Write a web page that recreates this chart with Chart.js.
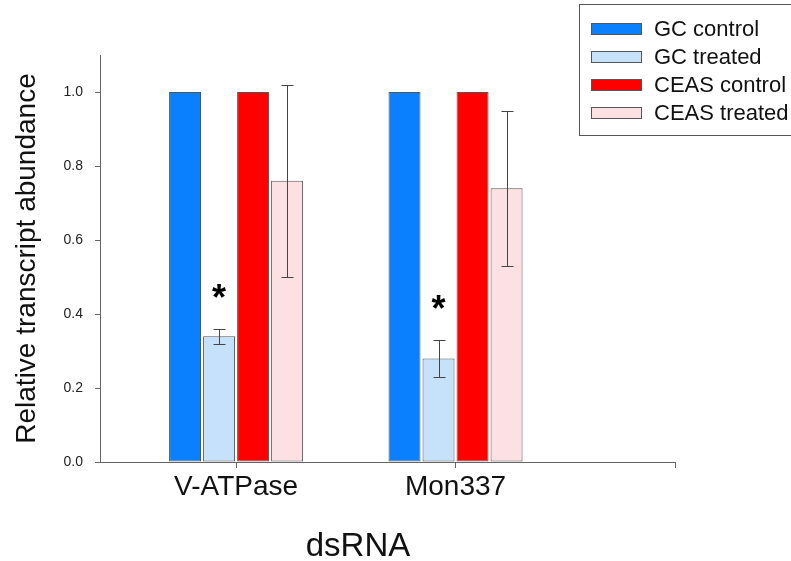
<!DOCTYPE html>
<html>
<head>
<meta charset="utf-8">
<script src="https://cdn.jsdelivr.net/npm/chart.js@4.4.1/dist/chart.umd.min.js"></script>
<style>
  html, body { margin: 0; padding: 0; background: #fff; }
</style>
</head>
<body>
<canvas id="myChart" width="791" height="561"></canvas>
<script>
// data
const categories = ['V-ATPase', 'Mon337'];
const positions = [1, 2];
const seriesNames = ['GC control', 'GC treated', 'CEAS control', 'CEAS treated'];
const gcControl = [1.0, 1.0];
const gcTreated = [0.34, 0.28];
const ceasControl = [1.0, 1.0];
const ceasTreated = [0.76, 0.74];
const gcTreatedErr = [0.02, 0.05];
const ceasTreatedErr = [0.26, 0.21];
const starLevels = [0.46, 0.43];
const yTicks = [0, 0.2, 0.4, 0.6, 0.8, 1.0];
const xTicks = [1, 2, 3];

const colors = ['#0a80ff', '#c6e1fa', '#ff0000', '#fde0e2'];
const FONT = '"Liberation Sans", Arial, sans-serif';

const toPoints = (vals) => vals.map((v, i) => ({ x: positions[i], y: v }));
const seriesValues = [gcControl, gcTreated, ceasControl, ceasTreated];
const seriesErrors = [null, gcTreatedErr, null, ceasTreatedErr];

// error bars, asterisks, x title, legend box
const extras = {
  id: 'extras',
  afterDatasetsDraw(chart) {
    const ctx = chart.ctx;
    const y = chart.scales.y;
    ctx.save();
    ctx.strokeStyle = '#444';
    ctx.lineWidth = 1;
    seriesErrors.forEach((errs, di) => {
      if (!errs) return;
      const meta = chart.getDatasetMeta(di);
      meta.data.forEach((bar, j) => {
        const v = seriesValues[di][j];
        const top = Math.round(y.getPixelForValue(v + errs[j])) + 0.5;
        const bot = Math.round(y.getPixelForValue(v - errs[j])) + 0.5;
        const x = Math.round(bar.x) + 0.5;
        ctx.beginPath();
        ctx.moveTo(x, top); ctx.lineTo(x, bot);
        ctx.moveTo(x - 6, top); ctx.lineTo(x + 6, top);
        ctx.moveTo(x - 6, bot); ctx.lineTo(x + 6, bot);
        ctx.stroke();
      });
    });
    // significance stars over GC treated
    ctx.fillStyle = '#000';
    ctx.font = 'bold 36px ' + FONT;
    ctx.textAlign = 'center';
    ctx.textBaseline = 'alphabetic';
    chart.getDatasetMeta(1).data.forEach((bar, j) => {
      ctx.fillText('*', bar.x, y.getPixelForValue(starLevels[j]) + 18);
    });
    ctx.restore();
  },
  afterDraw(chart) {
    const ctx = chart.ctx;
    ctx.save();
    // x axis title
    ctx.fillStyle = '#111';
    ctx.font = '33px ' + FONT;
    ctx.textAlign = 'center';
    ctx.textBaseline = 'alphabetic';
    ctx.fillText('dsRNA', 358, 556);
    // legend
    ctx.strokeStyle = '#555';
    ctx.lineWidth = 1;
    ctx.strokeRect(579.5, 4.5, 220, 131);
    ctx.font = '22px ' + FONT;
    ctx.textAlign = 'left';
    ctx.textBaseline = 'middle';
    seriesNames.forEach((name, i) => {
      const cy = 29 + i * 28;
      ctx.fillStyle = colors[i];
      ctx.fillRect(591, cy - 6, 51, 12);
      ctx.strokeStyle = '#555';
      ctx.strokeRect(591.5, cy - 5.5, 50, 11);
      ctx.fillStyle = '#111';
      ctx.fillText(name, 654, cy + 1);
    });
    ctx.restore();
  }
};

const ctx = document.getElementById('myChart');
const myChart = new Chart(ctx, {
  type: 'bar',
  data: {
    datasets: seriesNames.map((name, i) => ({
      label: name,
      data: toPoints(seriesValues[i]),
      backgroundColor: colors[i],
      borderColor: '#555',
      borderWidth: 1,
      borderSkipped: false,
      categoryPercentage: 0.62,
      barPercentage: 0.94
    }))
  },
  options: {
    responsive: false,
    animation: false,
    layout: { padding: { top: 55, right: 116, left: 0, bottom: 0 } },
    plugins: {
      legend: { display: false },
      tooltip: { enabled: false }
    },
    scales: {
      x: {
        type: 'linear',
        min: 0.38,
        max: 3,
        offset: false,
        afterBuildTicks: (s) => { s.ticks = xTicks.map(v => ({ value: v })); },
        afterFit: (s) => { s.height = 99; },
        border: { display: true, color: '#666', width: 1 },
        grid: { display: true, offset: false, drawOnChartArea: false, drawTicks: true, tickLength: 6, color: '#666' },
        ticks: {
          padding: 2,
          color: '#111',
          font: { family: FONT, size: 28 },
          callback: (v) => categories[v - 1] || ''
        }
      },
      y: {
        min: 0,
        max: 1.1,
        afterBuildTicks: (s) => { s.ticks = yTicks.map(v => ({ value: v })); },
        afterFit: (s) => { s.width = 100; },
        border: { display: true, color: '#666', width: 1 },
        grid: { display: true, drawOnChartArea: false, drawTicks: true, tickLength: 5, color: '#666' },
        ticks: {
          padding: 12,
          color: '#222',
          font: { family: FONT, size: 14 },
          callback: (v) => v.toFixed(1)
        },
        title: {
          display: true,
          text: 'Relative transcript abundance',
          color: '#111',
          font: { family: FONT, size: 28 },
          padding: { top: 10, bottom: 0 }
        }
      }
    }
  },
  plugins: [extras]
});
</script>
</body>
</html>
